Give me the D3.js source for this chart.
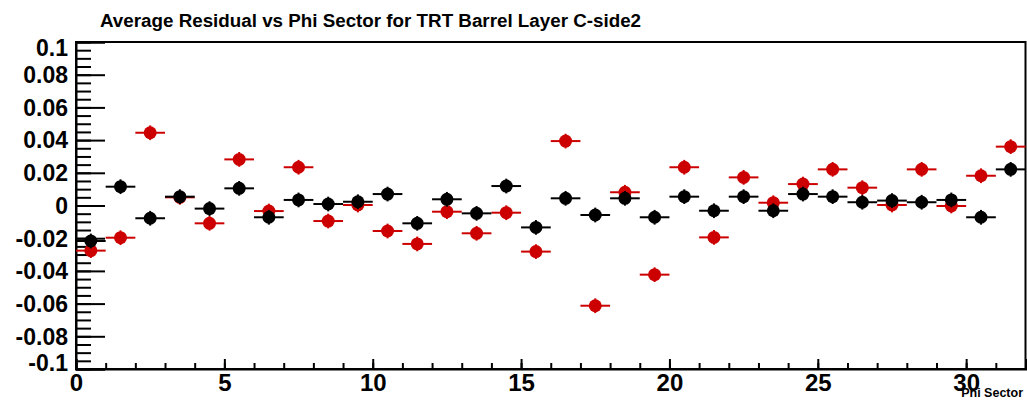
<!DOCTYPE html>
<html>
<head>
<meta charset="utf-8">
<script src="https://cdn.jsdelivr.net/npm/d3@7/dist/d3.min.js"></script>
<style>
  html, body { margin: 0; padding: 0; background: #fff; }
  svg { display: block; }
  text { font-family: "Liberation Sans", Arial, Helvetica, sans-serif; font-weight: bold; fill: #000; }
</style>
</head>
<body>
<svg id="chart" width="1027" height="404"></svg>
<script>
// Phi sector bin centres (32 sectors, bin width 1)
const sectors = d3.range(32).map(i => i + 0.5);
const binHalfWidth = 0.5;

// Average residual per phi sector, second series (red)
const residualRed = [
  -0.0276, -0.0197, 0.0445, 0.0050, -0.0109, 0.0282, -0.0034, 0.0234,
  -0.0095, 0.0003, -0.0156, -0.0235, -0.0038, -0.0170, -0.0044, -0.0282,
  0.0394, -0.0613, 0.0081, -0.0423, 0.0234, -0.0195, 0.0172, 0.0017,
  0.0131, 0.0221, 0.0109, 0.0003, 0.0221, -0.0003, 0.0182, 0.0360
];

// Average residual per phi sector, first series (black)
const residualBlack = [
  -0.0217, 0.0115, -0.0078, 0.0054, -0.0019, 0.0105, -0.0072, 0.0034,
  0.0009, 0.0023, 0.0070, -0.0109, 0.0038, -0.0048, 0.0119, -0.0134,
  0.0044, -0.0058, 0.0044, -0.0072, 0.0054, -0.0032, 0.0054, -0.0032,
  0.0070, 0.0054, 0.0020, 0.0030, 0.0020, 0.0034, -0.0072, 0.0221
];

// Statistical error on each mean (small, same for all sectors)
const residualErr = 0.0045;

// Axis ticks and labels
const xMajorTicks = [0, 5, 10, 15, 20, 25, 30];
const xMinorTicks = d3.range(0, 33, 1);
const yMajorTicks = [-0.1, -0.08, -0.06, -0.04, -0.02, 0, 0.02, 0.04, 0.06, 0.08, 0.1];
const yTickLabels = ["-0.1", "-0.08", "-0.06", "-0.04", "-0.02", "0", "0.02", "0.04", "0.06", "0.08", "0.1"];
const yMinorTicks = d3.range(-20, 21).map(k => k * 0.005);

const title = "Average Residual vs Phi Sector for TRT Barrel Layer C-side2";
const xTitle = "Phi Sector";

// Frame geometry
const frame = { left: 76, right: 1025.5, top: 42, bottom: 369 };

const svg = d3.select("#chart");

const x = d3.scaleLinear().domain([0, 32]).range([frame.left, frame.right]);
const y = d3.scaleLinear().domain([-0.1, 0.1]).range([frame.bottom, frame.top]);

// Frame box
svg.append("rect")
  .attr("x", frame.left).attr("y", frame.top)
  .attr("width", frame.right - frame.left)
  .attr("height", frame.bottom - frame.top)
  .attr("fill", "none").attr("stroke", "#000").attr("stroke-width", 2);

// Y axis: minor ticks
svg.append("g")
  .attr("transform", `translate(${frame.left},0)`)
  .call(d3.axisLeft(y).tickValues(yMinorTicks).tickSize(-15).tickFormat(""))
  .call(g => g.select(".domain").remove())
  .call(g => g.selectAll("line").attr("stroke", "#000").attr("stroke-width", 2));

// Y axis: major ticks with labels (end labels nudged inside the frame height)
const yAxisG = svg.append("g")
  .attr("transform", `translate(${frame.left},0)`)
  .call(d3.axisLeft(y).tickValues(yMajorTicks).tickSize(-29).tickPadding(8)
    .tickFormat((d, i) => yTickLabels[i]))
  .call(g => g.select(".domain").attr("stroke", "#000").attr("stroke-width", 2))
  .call(g => g.selectAll("line").attr("stroke", "#000").attr("stroke-width", 2));
yAxisG.selectAll("text")
  .attr("font-size", 23).attr("font-family", null)
  .attr("dy", (d, i) => i === 0 ? "0.08em" : (i === yMajorTicks.length - 1 ? "0.58em" : "0.34em"));

// X axis: minor ticks
svg.append("g")
  .attr("transform", `translate(0,${frame.bottom})`)
  .call(d3.axisBottom(x).tickValues(xMinorTicks).tickSize(-6).tickFormat(""))
  .call(g => g.select(".domain").remove())
  .call(g => g.selectAll("line").attr("stroke", "#000").attr("stroke-width", 2));

// X axis: major ticks with labels
const xAxisG = svg.append("g")
  .attr("transform", `translate(0,${frame.bottom})`)
  .call(d3.axisBottom(x).tickValues(xMajorTicks).tickSize(-10).tickPadding(4).tickFormat(d3.format("d")))
  .call(g => g.select(".domain").attr("stroke", "#000").attr("stroke-width", 2))
  .call(g => g.selectAll("line").attr("stroke", "#000").attr("stroke-width", 2));
xAxisG.selectAll("text")
  .attr("font-size", 24).attr("font-family", null)
  .attr("dy", "0.74em");

// Title
svg.append("text")
  .attr("x", 100).attr("y", 27)
  .attr("font-size", 18.8)
  .text(title);

// X axis title
svg.append("text")
  .attr("x", 1023).attr("y", 397)
  .attr("text-anchor", "end")
  .attr("font-size", 12.5)
  .text(xTitle);

// Data series: horizontal bin-width bars, small vertical error bars, filled markers
function drawSeries(values, color) {
  const g = svg.append("g");
  const pts = sectors.map((s, i) => ({ s, v: values[i] }));
  g.selectAll("line.h").data(pts).join("line")
    .attr("x1", d => x(d.s - binHalfWidth)).attr("x2", d => x(d.s + binHalfWidth))
    .attr("y1", d => y(d.v)).attr("y2", d => y(d.v))
    .attr("stroke", color).attr("stroke-width", 2);
  g.selectAll("line.v").data(pts).join("line")
    .attr("x1", d => x(d.s)).attr("x2", d => x(d.s))
    .attr("y1", d => y(d.v - residualErr)).attr("y2", d => y(d.v + residualErr))
    .attr("stroke", color).attr("stroke-width", 2);
  g.selectAll("circle").data(pts).join("circle")
    .attr("cx", d => x(d.s)).attr("cy", d => y(d.v))
    .attr("r", 6.5).attr("fill", color);
}

drawSeries(residualRed, "#cc0000");
drawSeries(residualBlack, "#000000");
</script>
</body>
</html>
